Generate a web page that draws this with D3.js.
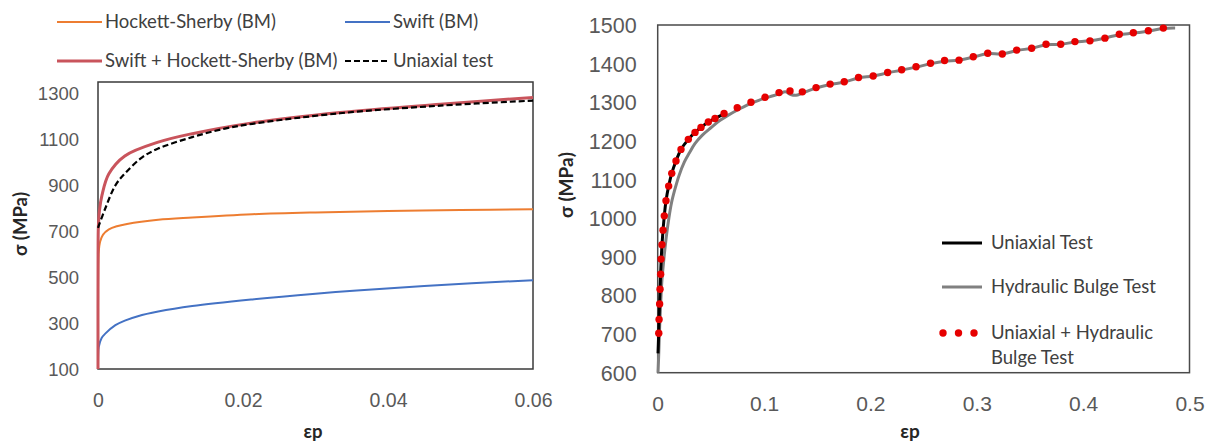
<!DOCTYPE html>
<html><head><meta charset="utf-8">
<script src="https://cdn.jsdelivr.net/npm/d3@7"></script>
<style>
html,body{margin:0;padding:0;background:#fff;}
svg{display:block;font-family:Lato, "Open Sans", sans-serif;}
</style></head>
<body>
<svg id="chart" width="1214" height="445"></svg>
<script>
// ---------- LEFT CHART DATA ----------
const leftXTicks = [0, 0.02, 0.04, 0.06];
const leftYTicks = [100, 300, 500, 700, 900, 1100, 1300];
const hockettSherby = [[0,100],[0.00001,450],[0.00005,570],[0.0001,610],[0.0003,655],[0.0007,685],[0.0015,708],[0.0026,722],[0.004,732],[0.0083,750],[0.013,760],[0.0213,774],[0.03,782],[0.04,788],[0.05,792],[0.06,796]];
const swift = [[0,100],[0.00002,160],[0.0001,196],[0.0005,235],[0.001,254],[0.0024,291],[0.0037,311],[0.0055,330],[0.0083,350],[0.013,374],[0.0213,403],[0.03,428],[0.0357,442],[0.045,462],[0.06,487]];
const swiftHS = [[0,100],[0.00001,600],[0.00005,720],[0.0002,790],[0.00055,857],[0.0015,950],[0.0037,1028],[0.0083,1088],[0.013,1125],[0.0213,1172],[0.0334,1217],[0.0472,1253],[0.06,1283]];
const uniaxialL = [[0,715],[0.001,799],[0.0024,900],[0.0037,951],[0.006,1020],[0.0083,1060],[0.013,1110],[0.0175,1147],[0.0213,1168],[0.0334,1214],[0.0472,1247],[0.06,1269]];

// ---------- RIGHT CHART DATA ----------
const rightXTicks = [0, 0.1, 0.2, 0.3, 0.4, 0.5];
const rightYTicks = [600, 700, 800, 900, 1000, 1100, 1200, 1300, 1400, 1500];
const uniaxialR = [[0.0003,650],[0.0008,690],[0.0013,740],[0.002,800],[0.0028,860],[0.0035,905],[0.0045,950],[0.006,1000],[0.0078,1045],[0.0103,1083],[0.0132,1116],[0.0172,1148],[0.0219,1178],[0.0288,1204],[0.0351,1222],[0.0407,1235],[0.0476,1249],[0.0539,1258],[0.061,1268]];
const bulge = [[0.0003,600],[0.001,650],[0.002,730],[0.003,790],[0.004,840],[0.006,900],[0.008,950],[0.0105,1000],[0.013,1040],[0.016,1073],[0.02,1110],[0.025,1145],[0.03,1170],[0.035,1193],[0.042,1215],[0.05,1234],[0.058,1252],[0.066,1266],[0.075,1280],[0.085,1294],[0.095,1305],[0.105,1314],[0.114,1321],[0.12,1327],[0.125,1320],[0.13,1318],[0.136,1324],[0.149,1337],[0.162,1346],[0.175,1352],[0.189,1363],[0.203,1368],[0.216,1376],[0.229,1383],[0.243,1391],[0.257,1400],[0.27,1406],[0.283,1409],[0.297,1417],[0.31,1426],[0.324,1425],[0.338,1434],[0.352,1440],[0.365,1449],[0.379,1450],[0.392,1456],[0.406,1459],[0.42,1466],[0.434,1475],[0.447,1479],[0.461,1484],[0.475,1491],[0.4865,1492]];
const combined = [[0.0010,702],[0.0013,738],[0.0018,778],[0.0022,816],[0.0028,855],[0.0031,894],[0.0040,931],[0.0050,969],[0.0062,1006],[0.0078,1045],[0.0103,1083],[0.0132,1116],[0.0172,1148],[0.0219,1178],[0.0288,1204],[0.0351,1222],[0.0407,1235],[0.0476,1249],[0.0539,1258],[0.0624,1271],[0.0748,1286],[0.0877,1300],[0.1009,1313],[0.1141,1325],[0.1244,1329],[0.1360,1327],[0.1489,1338],[0.1621,1347],[0.1754,1353],[0.1888,1364],[0.2026,1368],[0.2162,1377],[0.2294,1384],[0.2429,1392],[0.2565,1401],[0.2697,1408],[0.2833,1409],[0.2967,1418],[0.3103,1427],[0.3240,1425],[0.3375,1435],[0.3516,1440],[0.3651,1450],[0.3789,1450],[0.3923,1457],[0.4064,1459],[0.4205,1466],[0.4340,1476],[0.4472,1480],[0.4613,1485],[0.4754,1492]];

const svg = d3.select("#chart");
const tickColor = "#595959";
const titleColor = "#262626";
const curve = d3.curveCatmullRom.alpha(0.5);

// ================= LEFT =================
const xL = d3.scaleLinear().domain([0, 0.06]).range([98, 533]);
const yL = d3.scaleLinear().domain([100, 1350]).range([369, 82]);
const lineL = d3.line().x(d => xL(d[0])).y(d => yL(d[1])).curve(curve);

const gL = svg.append("g");
gL.append("rect").attr("x", xL(0)).attr("y", yL(1350)).attr("width", xL(0.06)-xL(0)).attr("height", yL(100)-yL(1350))
  .attr("fill", "none").attr("stroke", "#3a3a3a").attr("stroke-width", 1.5);

const yAxL = gL.append("g").attr("transform", `translate(${xL(0)},0)`)
  .call(d3.axisLeft(yL).tickValues(leftYTicks).tickSize(0).tickPadding(19).tickFormat(d3.format("d")));
yAxL.select(".domain").remove();
yAxL.selectAll("text").attr("fill", tickColor).style("font-size", "18.5px").attr("dy", "0.35em");

const xAxL = gL.append("g").attr("transform", `translate(0,${yL(100)})`)
  .call(d3.axisBottom(xL).tickValues(leftXTicks).tickSize(0).tickPadding(24).tickFormat(d => d === 0 ? "0" : d3.format(".2f")(d)));
xAxL.select(".domain").remove();
xAxL.selectAll("text").attr("fill", tickColor).style("font-size", "19.5px");

gL.append("path").datum(hockettSherby).attr("d", lineL).attr("fill", "none").attr("stroke", "#ED7D31").attr("stroke-width", 2);
gL.append("path").datum(swift).attr("d", lineL).attr("fill", "none").attr("stroke", "#4472C4").attr("stroke-width", 2);
gL.append("path").datum(swiftHS).attr("d", lineL).attr("fill", "none").attr("stroke", "#C9545C").attr("stroke-width", 3);
gL.append("path").datum(uniaxialL).attr("d", lineL).attr("fill", "none").attr("stroke", "#000").attr("stroke-width", 2.2).attr("stroke-dasharray", "6,3");

gL.append("text").attr("transform", `translate(27,224) rotate(-90)`).attr("text-anchor", "middle")
  .attr("fill", titleColor).style("font-size", "18.5px").style("font-weight", "bold").text("σ (MPa)");
gL.append("text").attr("x", 313).attr("y", 438).attr("text-anchor", "middle")
  .attr("fill", titleColor).style("font-size", "18.5px").style("font-weight", "bold").text("εp");

// left legend
const legL = [
  {label: "Hockett-Sherby (BM)", color: "#ED7D31", w: 2, dash: null, x: 57, y: 22},
  {label: "Swift (BM)", color: "#4472C4", w: 2, dash: null, x: 345, y: 22},
  {label: "Swift + Hockett-Sherby (BM)", color: "#C9545C", w: 3, dash: null, x: 57, y: 61},
  {label: "Uniaxial test", color: "#000", w: 2.2, dash: "6,3", x: 345, y: 61}
];
const lgL = gL.selectAll("g.leg").data(legL).join("g").attr("class", "leg");
lgL.append("line").attr("x1", d => d.x).attr("x2", d => d.x + 45).attr("y1", d => d.y).attr("y2", d => d.y)
  .attr("stroke", d => d.color).attr("stroke-width", d => d.w).attr("stroke-dasharray", d => d.dash);
lgL.append("text").attr("x", d => d.x + 48).attr("y", d => d.y).attr("dy", "0.35em")
  .attr("fill", "#404040").style("font-size", "18.5px").text(d => d.label);

// ================= RIGHT =================
const xR = d3.scaleLinear().domain([0, 0.5]).range([657.7, 1189.5]);
const yR = d3.scaleLinear().domain([600, 1500]).range([372.7, 25]);
const lineR = d3.line().x(d => xR(d[0])).y(d => yR(d[1])).curve(curve);

const gR = svg.append("g");
gR.append("rect").attr("x", xR(0)).attr("y", yR(1500)).attr("width", xR(0.5)-xR(0)).attr("height", yR(600)-yR(1500))
  .attr("fill", "none").attr("stroke", "#4a4a4a").attr("stroke-width", 1.5);

const yAxR = gR.append("g").attr("transform", `translate(${xR(0)},0)`)
  .call(d3.axisLeft(yR).tickValues(rightYTicks).tickSize(0).tickPadding(21).tickFormat(d3.format("d")));
yAxR.select(".domain").remove();
yAxR.selectAll("text").attr("fill", tickColor).style("font-size", "21.5px").attr("dy", "0.35em");

const xAxR = gR.append("g").attr("transform", `translate(0,${yR(600)})`)
  .call(d3.axisBottom(xR).tickValues(rightXTicks).tickSize(0).tickPadding(23).tickFormat(d => d === 0 ? "0" : d3.format(".1f")(d)));
xAxR.select(".domain").remove();
xAxR.selectAll("text").attr("fill", tickColor).style("font-size", "21px");

gR.append("path").datum(bulge).attr("d", lineR).attr("fill", "none").attr("stroke", "#808080").attr("stroke-width", 3);
gR.append("path").datum(uniaxialR).attr("d", lineR).attr("fill", "none").attr("stroke", "#000").attr("stroke-width", 3);
gR.selectAll("circle.pt").data(combined).join("circle").attr("class", "pt")
  .attr("cx", d => xR(d[0])).attr("cy", d => yR(d[1])).attr("r", 3.7).attr("fill", "#E60000");

gR.append("text").attr("transform", `translate(573,185) rotate(-90)`).attr("text-anchor", "middle")
  .attr("fill", titleColor).style("font-size", "19px").style("font-weight", "bold").text("σ (MPa)");
gR.append("text").attr("x", 910).attr("y", 438).attr("text-anchor", "middle")
  .attr("fill", titleColor).style("font-size", "19px").style("font-weight", "bold").text("εp");

// right legend
const legR = [
  {label: ["Uniaxial Test"], type: "line", color: "#000", y: 243},
  {label: ["Hydraulic Bulge Test"], type: "line", color: "#808080", y: 287},
  {label: ["Uniaxial + Hydraulic", "Bulge Test"], type: "dots", color: "#E60000", y: 333}
];
const lgR = gR.selectAll("g.legr").data(legR).join("g").attr("class", "legr");
lgR.filter(d => d.type === "line").append("line").attr("x1", 942).attr("x2", 982).attr("y1", d => d.y).attr("y2", d => d.y)
  .attr("stroke", d => d.color).attr("stroke-width", 3);
lgR.filter(d => d.type === "dots").selectAll("circle").data(d => [943, 958.5, 974].map(x => ({x, y: d.y, c: d.color})))
  .join("circle").attr("cx", d => d.x).attr("cy", d => d.y).attr("r", 3.7).attr("fill", d => d.c);
lgR.each(function(d) {
  const t = d3.select(this).append("text").attr("x", 991).attr("y", d.y)
    .attr("fill", "#404040").style("font-size", "18.5px");
  d.label.forEach((s, i) => t.append("tspan").attr("x", 991).attr("dy", i === 0 ? "0.35em" : "1.3em").text(s));
});
</script>
</body></html>
